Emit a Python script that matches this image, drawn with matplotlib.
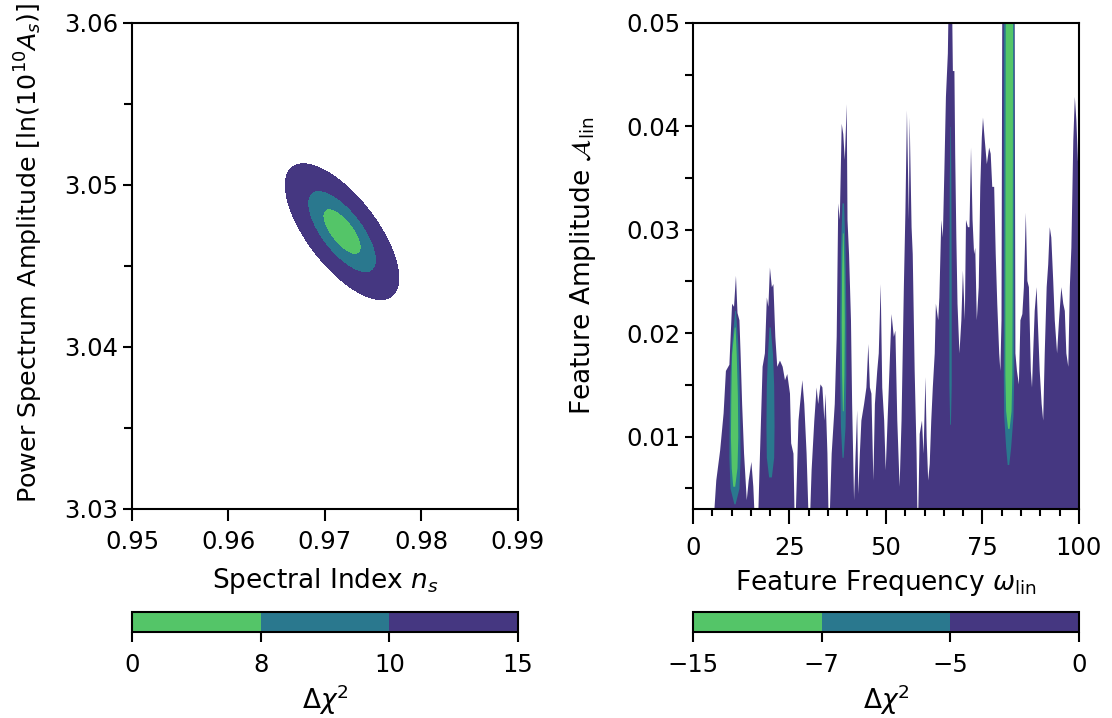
import numpy as np
import matplotlib
matplotlib.use('Agg')
import matplotlib.pyplot as plt
from matplotlib.colors import ListedColormap, BoundaryNorm
from matplotlib.cm import ScalarMappable
from matplotlib.ticker import MultipleLocator

# ---------------- colours of the three Δχ² bands (inner -> outer) ----------------
band_colors = ['#54c568', '#2a788e', '#453781']

# ---------------- left panel: (n_s, ln 10^10 A_s) Δχ² surface ----------------
ns_best = 0.97177
lnAs_best = 3.04712
ns_sigma = 0.00209
lnAs_sigma = 0.00149
ns_lnAs_corr = -0.685
dchi2_min = 7.1
left_levels = [0, 8, 10, 15]

# ---------------- right panel: (ω_lin, A_lin) Δχ² regions ----------------
right_levels = [-15, -7, -5, 0]

# upper edge of the Δχ² < 0 region
omega_env = [4.9, 5.9, 6.9, 7.8, 8.4, 9.3, 10.0, 10.5, 11.0, 11.4, 11.9, 12.2, 12.6, 13.1,
             13.8, 14.3, 15.0, 15.5, 16.1, 16.6, 17.1, 17.9, 18.5, 19.0, 19.4, 19.8, 20.3,
             20.7, 21.2, 21.7, 22.4, 23.1, 23.7, 24.3, 25.0, 25.3, 25.9, 26.3, 27.2, 27.6,
             28.2, 28.7, 29.3, 30.0, 30.6, 31.3, 31.9, 32.3, 32.9, 33.4, 33.9, 34.2, 34.7,
             35.1, 35.8, 36.6, 37.1, 37.5, 37.9, 38.4, 38.8, 39.2, 39.7, 39.9, 40.3, 40.8,
             41.1, 41.6, 42.0, 42.4, 42.7, 43.1, 43.5, 44.2, 44.8, 45.3, 45.7, 46.1, 46.6,
             47.0, 47.6, 48.0, 48.5, 48.9, 49.4, 49.8, 50.6, 51.3, 51.9, 52.3, 52.8, 53.4,
             53.9, 54.5, 54.9, 55.3, 55.8, 56.0, 56.5, 56.8, 57.3, 57.8, 58.1, 58.6, 59.2,
             59.6, 60.1, 60.4, 60.8, 61.2, 61.6, 62.0, 62.5, 62.8, 63.4, 63.7, 64.2, 64.6,
             65.0, 65.4, 65.9, 66.1, 67.0, 67.2, 67.6, 67.8, 68.1, 68.4, 68.9, 69.4, 69.8,
             70.3, 70.6, 71.1, 71.5, 71.9, 72.3, 72.7, 73.0, 73.4, 73.9, 74.3, 74.7, 75.0,
             75.4, 76.0, 76.6, 77.0, 77.4, 77.9, 78.3, 78.7, 79.2, 79.5, 79.8, 80.0, 83.2,
             83.4, 83.8, 84.3, 84.7, 85.2, 85.6, 86.1, 86.5, 86.9, 87.4, 87.7, 88.0, 88.4,
             88.9, 89.2, 89.7, 90.2, 90.6, 91.0, 91.5, 91.9, 92.3, 92.7, 93.2, 93.6, 94.2,
             94.7, 95.3, 95.8, 96.2, 96.6, 97.1, 97.5, 97.9, 98.4, 98.8, 99.2, 99.6, 100.0]
amp_env = [0.0, 0.0058, 0.0087, 0.0123, 0.0164, 0.0170, 0.0229, 0.0226, 0.0256, 0.0220, 0.0213,
           0.0181, 0.0132, 0.0084, 0.0039, 0.0058, 0.0076, 0.0052, 0.0, 0.0, 0.0068, 0.0168,
           0.0181, 0.0235, 0.0226, 0.0264, 0.0245, 0.0248, 0.0197, 0.0168, 0.0174, 0.0168,
           0.0155, 0.0161, 0.0142, 0.0094, 0.0084, 0.0, 0.0116, 0.0132, 0.0155, 0.0132,
           0.0084, 0.0, 0.0068, 0.0116, 0.0148, 0.0132, 0.0151, 0.0148, 0.0116, 0.0142,
           0.0084, 0.0, 0.0084, 0.0132, 0.0197, 0.0326, 0.0310, 0.0403, 0.0393, 0.0368,
           0.0422, 0.0310, 0.0277, 0.0213, 0.0132, 0.0039, 0.0084, 0.0126, 0.0045, 0.0084,
           0.0116, 0.0132, 0.0148, 0.0190, 0.0148, 0.0142, 0.0058, 0.0132, 0.0164, 0.0181,
           0.0248, 0.0148, 0.0116, 0.0068, 0.0148, 0.0219, 0.0197, 0.0203, 0.0116, 0.0052,
           0.0116, 0.0245, 0.0317, 0.0416, 0.0310, 0.0409, 0.0303, 0.0277, 0.0164, 0.0084,
           0.0, 0.0103, 0.0116, 0.0084, 0.0158, 0.0100, 0.0058, 0.0074, 0.0116, 0.0148,
           0.0181, 0.0229, 0.0213, 0.0235, 0.0310, 0.0293, 0.0358, 0.0429, 0.0471, 0.0520,
           0.0520, 0.0454, 0.0454, 0.0374, 0.0293, 0.0229, 0.0181, 0.0213, 0.0261, 0.0213,
           0.0310, 0.0303, 0.0303, 0.0380, 0.0310, 0.0277, 0.0283, 0.0213, 0.0245, 0.0342,
           0.0390, 0.0409, 0.0390, 0.0364, 0.0380, 0.0374, 0.0342, 0.0342, 0.0277, 0.0229,
           0.0181, 0.0164, 0.0213, 0.0520, 0.0520, 0.0181, 0.0164, 0.0151, 0.0213, 0.0219,
           0.0245, 0.0317, 0.0251, 0.0245, 0.0164, 0.0148, 0.0181, 0.0222, 0.0245, 0.0213,
           0.0164, 0.0132, 0.0116, 0.0181, 0.0245, 0.0267, 0.0303, 0.0293, 0.0251, 0.0213,
           0.0181, 0.0213, 0.0245, 0.0229, 0.0222, 0.0181, 0.0168, 0.0245, 0.0283, 0.0387,
           0.0429, 0.0406, 0.0367, 0.0374]

# Δχ² < -5 islands (amplitude levels with left / right frequency edges)
mid_islands = [
    dict(amp=[0.0035, 0.0050, 0.0080, 0.0120, 0.0160, 0.0190, 0.0222],
         left=[10.6, 9.6, 9.3, 9.4, 9.6, 10.0, 10.8],
         right=[10.9, 11.9, 12.2, 12.1, 11.9, 11.6, 11.0]),
    dict(amp=[0.0061, 0.0080, 0.0110, 0.0150, 0.0180, 0.0206],
         left=[19.6, 19.0, 18.9, 19.0, 19.3, 19.7],
         right=[20.3, 20.9, 21.0, 20.9, 20.6, 20.0]),
    dict(amp=[0.0080, 0.0110, 0.0160, 0.0220, 0.0280, 0.0326],
         left=[38.6, 38.2, 38.0, 38.0, 38.2, 38.6],
         right=[38.9, 39.4, 39.6, 39.6, 39.4, 39.0]),
    dict(amp=[0.0112, 0.0150, 0.0250, 0.0350, 0.0400],
         left=[66.5, 66.3, 66.3, 66.4, 66.6],
         right=[66.7, 66.9, 66.9, 66.8, 66.7]),
    dict(amp=[0.0073, 0.0090, 0.0120, 0.0160, 0.0250, 0.0520],
         left=[81.4, 81.0, 80.5, 80.4, 80.4, 80.4],
         right=[81.8, 82.3, 82.9, 83.1, 83.1, 83.1]),
]
# Δχ² < -7 islands
inner_islands = [
    dict(amp=[0.0052, 0.0070, 0.0100, 0.0140, 0.0180, 0.0206],
         left=[10.3, 9.9, 9.7, 9.8, 10.0, 10.7],
         right=[10.8, 11.4, 11.6, 11.5, 11.2, 10.9]),
    dict(amp=[0.0125, 0.0160, 0.0210, 0.0260, 0.0297],
         left=[38.7, 38.5, 38.4, 38.5, 38.7],
         right=[38.9, 39.1, 39.2, 39.1, 38.9]),
    dict(amp=[0.0108, 0.0125, 0.0160, 0.0250, 0.0520],
         left=[81.5, 81.0, 80.8, 80.8, 80.9],
         right=[81.9, 82.4, 82.6, 82.7, 82.8]),
]

# ---------------- figure ----------------
TFS = 17.5   # tick labels
LFS = 19     # axis labels
plt.rcParams['font.family'] = ['DejaVu Sans']
plt.rcParams['mathtext.fontset'] = 'dejavusans'
plt.rcParams['axes.linewidth'] = 1.5

fig = plt.figure(figsize=(11.12, 7.18), dpi=100)
axL = fig.add_axes([0.1187, 0.2911, 0.3471, 0.6769])
axR = fig.add_axes([0.6232, 0.2911, 0.3471, 0.6769])
caxL = fig.add_axes([0.1187, 0.1198, 0.3471, 0.0279])
caxR = fig.add_axes([0.6232, 0.1198, 0.3471, 0.0279])

# left panel contours
ns_grid = np.linspace(0.95, 0.99, 600)
as_grid = np.linspace(3.03, 3.06, 600)
NS, AS = np.meshgrid(ns_grid, as_grid)
dx = (NS - ns_best) / ns_sigma
dy = (AS - lnAs_best) / lnAs_sigma
dchi2 = dchi2_min + (dx**2 - 2 * ns_lnAs_corr * dx * dy + dy**2) / (1 - ns_lnAs_corr**2)
csL = axL.contourf(NS, AS, dchi2, levels=left_levels, colors=band_colors)
axL.set_xlim(0.95, 0.99)
axL.set_ylim(3.03, 3.06)
axL.set_xticks([0.95, 0.96, 0.97, 0.98, 0.99])
axL.set_yticks([3.03, 3.04, 3.05, 3.06])
axL.yaxis.set_minor_locator(MultipleLocator(0.005))
axL.set_xlabel(r'Spectral Index $n_s$', fontsize=LFS, labelpad=9)
axL.set_ylabel(r'Power Spectrum Amplitude $[\ln(10^{10}A_s)]$', fontsize=18.3)
axL.yaxis.set_label_coords(-0.225, 0.527)

# right panel regions
axR.fill_between(omega_env, 0, amp_env, color=band_colors[2], lw=0)
for isl in mid_islands:
    axR.fill_betweenx(isl['amp'], isl['left'], isl['right'], color=band_colors[1], lw=0)
for isl in inner_islands:
    axR.fill_betweenx(isl['amp'], isl['left'], isl['right'], color=band_colors[0], lw=0)
axR.set_xlim(0, 100)
axR.set_ylim(0.003, 0.05)
axR.set_xticks([0, 25, 50, 75, 100])
axR.xaxis.set_minor_locator(MultipleLocator(5))
axR.set_yticks([0.01, 0.02, 0.03, 0.04, 0.05])
axR.yaxis.set_minor_locator(MultipleLocator(0.005))
axR.set_xlabel(r'Feature Frequency $\omega_{\rm lin}$', fontsize=LFS, labelpad=6)
axR.set_ylabel(r'Feature Amplitude $\mathcal{A}_{\rm lin}$', fontsize=LFS)
axR.yaxis.set_label_coords(-0.245, 0.5)

for ax in (axL, axR):
    ax.tick_params(which='both', direction='out', width=1.5, labelsize=TFS)
axL.tick_params(axis='x', which='major', length=8.8, pad=6)
axL.tick_params(axis='y', which='major', length=6.5)
axL.tick_params(axis='y', which='minor', length=5.5)
axR.tick_params(axis='x', which='major', length=10.8, pad=8.5)
axR.tick_params(axis='x', which='minor', length=5.2)
axR.tick_params(axis='y', which='both', length=5.8)

# colourbars
cbL = fig.colorbar(csL, cax=caxL, orientation='horizontal', ticks=left_levels)
sm = ScalarMappable(norm=BoundaryNorm(right_levels, 3), cmap=ListedColormap(band_colors))
cbR = fig.colorbar(sm, cax=caxR, orientation='horizontal', ticks=right_levels)
for cb in (cbL, cbR):
    cb.outline.set_linewidth(1.5)
    cb.ax.tick_params(direction='out', length=7, width=1.5, pad=7.8, labelsize=TFS)
    cb.set_label(r'$\Delta\chi^2$', fontsize=LFS, labelpad=4)
cbL.ax.set_xticklabels(['0', '8', '10', '15'])
cbR.ax.set_xticklabels(['\u221215', '\u22127', '\u22125', '0'])

fig.savefig('out.png', dpi=100)
